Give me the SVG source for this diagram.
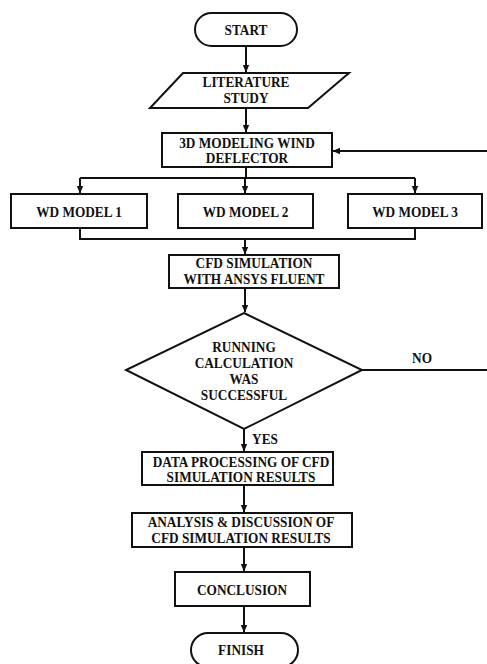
<svg xmlns="http://www.w3.org/2000/svg" width="487" height="664" viewBox="0 0 487 664">
<defs>
<marker id="ah" markerWidth="8" markerHeight="8" refX="7" refY="4" orient="auto" markerUnits="userSpaceOnUse">
<path d="M0,0.8 L7.5,4 L0,7.2 Z" fill="#111"/>
</marker>
<style>
.s{fill:#fff;stroke:#111;stroke-width:2}
.c{fill:none;stroke:#111;stroke-width:2}
.a{fill:none;stroke:#111;stroke-width:2;marker-end:url(#ah)}
text{font-family:"Liberation Serif","Times New Roman",serif;font-weight:bold;font-size:13.3px;fill:#111;text-anchor:middle;transform-box:fill-box;transform-origin:center;transform:scaleY(1.06)}
</style>
</defs>
<rect width="487" height="664" fill="#fff"/>
<g id="connectors">
<path class="a" d="M246,46 V72"/>
<path class="a" d="M246,108 V132"/>
<path class="c" d="M246,167 V178 M80,178 H415"/>
<path class="a" d="M80,178 V193"/>
<path class="a" d="M245,178 V193"/>
<path class="a" d="M415,178 V193"/>
<path class="c" d="M80,228 V239 H415 V228"/>
<path class="a" d="M245,239 V254"/>
<path class="a" d="M245,288 V312"/>
<path class="a" d="M362,370 H490 V151 H333"/>
<path class="a" d="M244,429 V451"/>
<path class="a" d="M244,485 V512"/>
<path class="a" d="M244,547 V571"/>
<path class="a" d="M244,606 V632"/>
</g>
<g id="start">
<rect class="s" x="195" y="13" width="102" height="33" rx="16.5"/>
<text x="246" y="34.5">START</text>
</g>
<g id="literature">
<polygon class="s" points="183,73 349,73 308,108 150,108"/>
<text x="246" y="87">LITERATURE</text>
<text x="246" y="103">STUDY</text>
</g>
<g id="modeling">
<rect class="s" x="162" y="133" width="170" height="34"/>
<text x="247" y="147.5">3D MODELING WIND</text>
<text x="247" y="162.5">DEFLECTOR</text>
</g>
<g id="wd1">
<rect class="s" x="11" y="194" width="136" height="34"/>
<text x="79" y="216.5">WD MODEL 1</text>
</g>
<g id="wd2">
<rect class="s" x="178" y="194" width="135" height="34"/>
<text x="245.5" y="216.5">WD MODEL 2</text>
</g>
<g id="wd3">
<rect class="s" x="348" y="194" width="134" height="34"/>
<text x="415" y="216.5">WD MODEL 3</text>
</g>
<g id="cfd">
<rect class="s" x="169" y="255" width="170" height="33"/>
<text x="254" y="268">CFD SIMULATION</text>
<text x="254" y="284">WITH ANSYS FLUENT</text>
</g>
<g id="decision">
<polygon class="s" points="244,313 362,370 244,429 126,370"/>
<text x="244" y="352">RUNNING</text>
<text x="244" y="368">CALCULATION</text>
<text x="244" y="383.5">WAS</text>
<text x="244" y="399.5">SUCCESSFUL</text>
<text x="422" y="362.5">NO</text>
<text x="265" y="444">YES</text>
</g>
<g id="processing">
<rect class="s" x="142" y="452" width="191" height="33"/>
<text x="241" y="466.5">DATA PROCESSING OF CFD</text>
<text x="241" y="482">SIMULATION RESULTS</text>
</g>
<g id="analysis">
<rect class="s" x="132" y="513" width="220" height="34"/>
<text x="241" y="527">ANALYSIS &amp; DISCUSSION OF</text>
<text x="241" y="543">CFD SIMULATION RESULTS</text>
</g>
<g id="conclusion">
<rect class="s" x="175" y="572" width="135" height="34"/>
<text x="242" y="594.5">CONCLUSION</text>
</g>
<g id="finish">
<rect class="s" x="191" y="633" width="107" height="34" rx="17"/>
<text x="241" y="655">FINISH</text>
</g>
</svg>
